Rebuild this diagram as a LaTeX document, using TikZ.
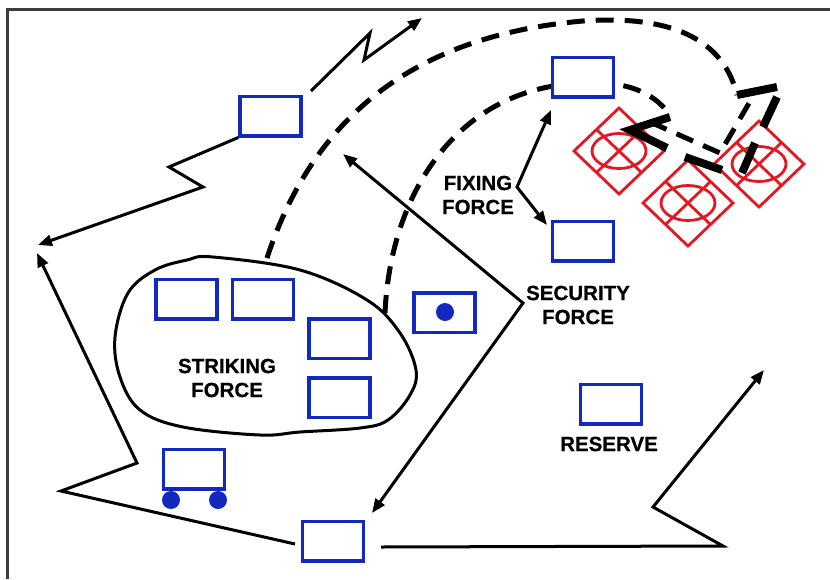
\documentclass[tikz,border=0pt]{standalone}
\usepackage{fontspec}
\setmainfont{Liberation Sans}[BoldFeatures={FakeBold=0.6}]
\usetikzlibrary{arrows.meta}
\definecolor{ublue}{RGB}{18,40,190}
\definecolor{ered}{RGB}{228,24,34}
\definecolor{framegray}{RGB}{60,60,60}
\pgfdeclarelayer{bg}
\pgfdeclarelayer{paper}
\pgfsetlayers{paper,bg,main}
\tikzset{
  unit/.style={draw=ublue, line width=3.5pt, fill=white, minimum width=61pt, minimum height=39.5pt, inner sep=0pt},
  wheel/.style={circle, fill=ublue, minimum size=18pt, inner sep=0pt},
  mv/.style={line width=3pt, line join=miter},
  tip/.style={-{Triangle[length=14pt,width=11pt]}},
  twotip/.style={{Triangle[length=14pt,width=11pt]}-{Triangle[length=14pt,width=11pt]}},
  route/.style={line width=5pt, dash pattern=on 18pt off 11pt},
  bar/.style={line width=8pt, line join=miter},
  lbl/.style={font=\bfseries\fontsize{20.5}{24}\selectfont, align=center, inner sep=0pt},
  enemy/.pic={
    \draw[ered, line width=2.8pt] (-45,0)--(0,-43)--(45,0)--(0,43)--cycle;
    \draw[ered, line width=2.8pt] (-22.5,-21.5)--(22.5,21.5) (22.5,-21.5)--(-22.5,21.5);
    \draw[ered, line width=2.8pt] (0,0) ellipse [x radius=27pt, y radius=17.5pt];
  }
}
\begin{document}
\begin{tikzpicture}[x=1pt,y=-1pt]
\useasboundingbox (0,0) rectangle (830,579);
\begin{pgfonlayer}{paper}
  \fill[white] (0,0) rectangle (830,579);
  \draw[framegray, line width=3pt] (7.5,579) -- (7.5,9.5) -- (830,9.5);
\end{pgfonlayer}

% units
\node[unit] (recon) at (270.5,116) {};
\node[unit] (top) at (583,77) {};
\node[unit] (fix) at (583,241) {};
\node[unit] (sa) at (186.5,299) {};
\node[unit] (sb) at (263,299) {};
\node[unit] (sc) at (339.5,338.5) {};
\node[unit] (sd) at (339.5,397.5) {};
\node[unit] (dotbox) at (444.5,312.5) {};
\node[wheel] (dot) at (445,312) {};
\node[unit] (truck) at (194,469) {};
\node[wheel] (wa) at (171,500) {};
\node[wheel] (wb) at (218,500) {};
\node[unit] (bot) at (333,541) {};
\node[unit] (res) at (611,404) {};

% labels
\node[lbl] (tstrike) at (227,378) {STRIKING\\FORCE};
\node[lbl] (tfix) at (478,195) {FIXING\\FORCE};
\node[lbl] (tsec) at (578,305) {SECURITY\\FORCE};
\node[lbl] (tres) at (609,444) {RESERVE};

% coordinates
\coordinate (r1) at (169,167);
\coordinate (r2) at (203,187);
\coordinate (r3) at (38,245);
\coordinate (r4) at (311,91);
\coordinate (r5) at (370,33);
\coordinate (r6) at (364,60);
\coordinate (r7) at (422,18);
\coordinate (l0) at (295,544);
\coordinate (l1) at (61,491);
\coordinate (l2) at (137,463);
\coordinate (l3) at (37,253);
\coordinate (b0) at (381,547);
\coordinate (b1) at (723,546);
\coordinate (b2) at (653,507);
\coordinate (b3) at (764,370);
\coordinate (s0) at (343,154);
\coordinate (sv) at (523,303);
\coordinate (s1) at (372,513);
\coordinate (f0) at (551,110);
\coordinate (fv) at (517,187);
\coordinate (f1) at (547,225);
\coordinate (o0) at (267,258);
\coordinate (o1) at (583,21);
\coordinate (o2) at (737,95);
\coordinate (i0) at (385,313);
\coordinate (i1) at (560,85);
\coordinate (i2) at (670,115);

\begin{pgfonlayer}{bg}
  \pic (ea) at (619,151) {enemy};
  \pic (eb) at (688,203) {enemy};
  \pic (ec) at (759,164) {enemy};

  % striking force area
  \draw[line width=3pt] plot[smooth cycle, tension=0.6] coordinates {
    (213,257) (300,270) (367,300) (400,333) (416,370) (410,395) (388,420)
    (360,428) (300,432) (260,435) (183,427) (140,410) (120,377) (115,337)
    (128,293) (155,270) (187,260)};

  % movement lines
  \draw[mv,tip] (recon.south west) -- (r1) -- (r2) -- (r3);
  \draw[mv,tip] (r4) -- (r5) -- (r6) -- (r7);
  \draw[mv,tip] (l0) -- (l1) -- (l2) -- (l3);
  \draw[mv,tip] (b0) -- (b1) -- (b2) -- (b3);
  \draw[mv,twotip] (s0) -- (sv) -- (s1);
  \draw[mv,twotip] (f0) -- (fv) -- (f1);

  % dashed routes
  \draw[route] (o0) .. controls (315,112) and (420,35) .. (o1)
               .. controls (680,14) and (725,45) .. (o2);
  \draw[route] (i0) .. controls (390,200) and (450,100) .. (i1)
               .. controls (620,77) and (652,90) .. (i2);
  \draw[route] (650,122) -- (720,153) -- (752,98);

  % thick bars at objective
  \draw[bar] (670,117) -- (630,130) -- (667,148);
  \draw[bar] (685,157) -- (722,170);
  \draw[bar] (o2) -- (777,87);
  \draw[bar] (777,97) -- (763,127);
  \draw[bar] (755,143) -- (742,173);
\end{pgfonlayer}
\end{tikzpicture}
\end{document}
